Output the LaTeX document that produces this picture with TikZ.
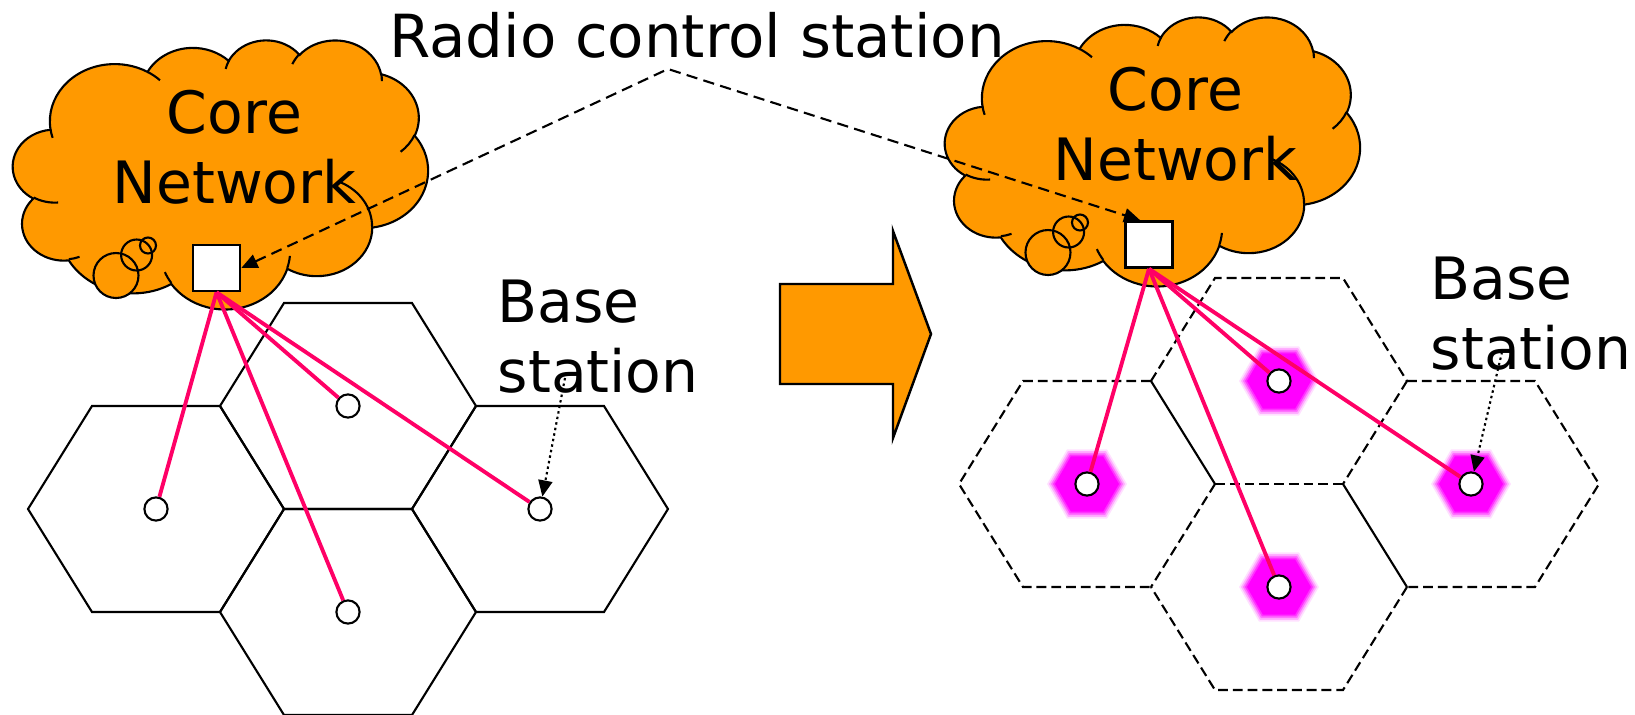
\documentclass[tikz,border=0pt]{standalone}
\usepackage{fontspec}
\setmainfont{DejaVu Sans}
\usetikzlibrary{arrows.meta, positioning}
\definecolor{cloudOrange}{HTML}{FF9900}
\definecolor{feederRed}{HTML}{FF0066}
\definecolor{glowMagenta}{HTML}{FF00FF}

\tikzset{
    % cloud outline, path units of 1/100 of the box (432 x 432)
    corecloud/.pic={
        \path[fill=cloudOrange, cloudline] (39.00,143.70)
            \foreach \w/\h/\s/\sw in {
                67.53/91.90/-190.487/123.781,
                53.33/72.67/-144.102/89.945,
                43.65/59.45/-145.808/99.723,
                48.57/65.95/-130.986/117.242,
                53.33/72.73/-78.709/109.027,
                67.75/92.20/-46.267/130.269,
                57.85/78.67/0.625/114.033,
                67.52/92.15/22.452/115.173,
                77.20/105.43/66.243/75.711,
                43.60/59.18/-274.942/146.736,
                43.45/59.45/-246.829/152.519}
            { arc[start angle={atan2(\w*sin(\s),\h*cos(\s))},
                  delta angle={mod(atan2(\w*sin(\s+\sw),\h*cos(\s+\sw))-atan2(\w*sin(\s),\h*cos(\s))+720,360)},
                  x radius=\w, y radius=\h] }
            -- cycle;
        % inner puff lines
        \draw[cloudline]
            \foreach \x/\y/\w/\h/\s/\sw in {
                46.93/261.77/43.45/59.45/86.742/26.430,
                69.28/348.99/43.60/59.18/73.610/11.447,
                164.78/390.90/67.52/92.15/137.624/14.081,
                288.27/347.51/67.52/92.15/6.453/15.998,
                341.29/229.54/57.85/78.67/-70.292/70.917,
                417.98/153.54/53.33/72.73/30.318/27.752,
                383.24/54.26/48.57/65.95/-13.744/14.859,
                290.78/39.52/48.57/65.95/-149.181/18.195,
                221.41/47.20/43.65/59.45/-163.494/17.686,
                140.00/51.92/67.53/91.90/-66.707/12.319,
                41.27/157.89/67.53/91.90/157.654/11.858}
            { (\x,\y) arc[start angle={atan2(\w*sin(\s),\h*cos(\s))},
                  delta angle={mod(atan2(\w*sin(\s+\sw),\h*cos(\s+\sw))-atan2(\w*sin(\s),\h*cos(\s))+720,360)},
                  x radius=\w, y radius=\h] };
    },
    % soft magenta cell marker
    glowhex/.pic={
        \foreach \r/\op in {40/0.12, 38/0.22, 36/0.35, 34/0.55, 32/1}
            \fill[glowMagenta, opacity=\op] (-\r,0) -- (-\r/2,-0.866*\r) -- (\r/2,-0.866*\r)
                -- (\r,0) -- (\r/2,0.866*\r) -- (-\r/2,0.866*\r) -- cycle;
    }
}

\begin{document}
\begin{tikzpicture}[
    x=0.01cm, y=-0.01cm,
    bigtext/.style={
        font=\fontsize{16.6pt}{19.9pt}\selectfont,
        inner sep=0pt
    },
    cloudline/.style={
        draw=black,
        line width=0.6pt
    },
    rcsbox/.style={
        rectangle,
        draw=black,
        fill=white,
        line width=0.7pt,
        minimum width=13.4pt,
        minimum height=13.1pt,
        inner sep=0pt
    },
    bsnode/.style={
        circle,
        draw=black,
        fill=white,
        line width=0.6pt,
        minimum size=6.6pt,
        inner sep=0pt
    },
    hexcell/.style={
        draw=black,
        line width=0.6pt
    },
    dashedcell/.style={
        hexcell,
        dash pattern=on 2.8pt off 1.4pt
    },
    feeder/.style={
        draw=feederRed,
        line width=1.1pt
    },
    rcsarrow/.style={
        {Triangle[length=4.6pt,width=4pt]}-{Triangle[length=4.6pt,width=4pt]},
        line width=0.6pt,
        dash pattern=on 3.2pt off 1.8pt
    },
    pointer/.style={
        -{Triangle[length=4.6pt,width=4pt]},
        line width=0.6pt,
        dash pattern=on 0.7pt off 0.9pt
    }
]
\useasboundingbox (0,0) rectangle (1635,714);

% Cells before: solid hexagons
\foreach \cx/\cy in {156/509, 348/406, 540/509, 348/612}
    \draw[hexcell, shift={(\cx,\cy)}] (-128,0) -- (-64,-103) -- (64,-103)
        -- (128,0) -- (64,103) -- (-64,103) -- cycle;

% Cells after: dashed outline, shared edges drawn once
\draw[dashedcell] (1151,381) -- (1023,381) -- (959,484) -- (1023,587) -- (1151,587);
\draw[dashedcell] (1151,381) -- (1215,278) -- (1343,278) -- (1407,381);
\draw[dashedcell] (1407,381) -- (1535,381) -- (1599,484) -- (1535,587) -- (1407,587);
\draw[dashedcell] (1407,587) -- (1343,690) -- (1215,690) -- (1151,587);
\draw[dashedcell] (1215,484) -- (1151,587);
\draw[dashedcell] (1215,484) -- (1343,484);
\draw[dashedcell] (1407,381) -- (1343,484);
\draw[hexcell] (1151,381) -- (1215,484);
\draw[hexcell] (1343,484) -- (1407,587);

\foreach \cx/\cy in {1087/484, 1279/381, 1471/484, 1279/587}
    \pic at (\cx,\cy) {glowhex};

% Core network clouds
\pic[xscale=0.9606, yscale=0.6227] at (13,39.5) {corecloud};
\pic[xscale=0.9606, yscale=0.6227] at (945,16.5) {corecloud};

% Callout bubbles
\foreach \bx/\by in {0/0, 932/-23} {
    \foreach \cx/\cy/\r in {116/275.5/22.5, 136.6/255/15.5, 148/245.5/8}
        \fill[cloudOrange] (\cx+\bx,\cy+\by) circle (\r);
    \foreach \cx/\cy/\r in {116/275.5/22.5, 136.6/255/15.5, 148/245.5/8}
        \draw[cloudline] (\cx+\bx,\cy+\by) circle (\r);
}

\node[bigtext, align=center] (coreOld) at (234.5,147) {Core\\Network};
\node[bigtext, align=center] (coreNew) at (1175.5,124.5) {Core\\Network};

% Radio control stations
\node[rcsbox] (rcsOld) at (216.5,268) {};
\node[rcsbox] (rcsNew) at (1149,244.5) {};

% Base stations
\node[bsnode] (oldW) at (156,509) {};
\node[bsnode] (oldN) at (348,406) {};
\node[bsnode] (oldE) at (540,509) {};
\node[bsnode] (oldS) at (348,612) {};
\node[bsnode] (newW) at (1087,484) {};
\node[bsnode] (newN) at (1279,381) {};
\node[bsnode] (newE) at (1471,484) {};
\node[bsnode] (newS) at (1279,587) {};

% Feeder links
\foreach \bs in {oldW, oldN, oldE, oldS}
    \draw[feeder] (rcsOld.south) -- (\bs);
\foreach \bs in {newW, newN, newE, newS}
    \draw[feeder] (rcsNew.south) -- (\bs);

% Labels
\node[bigtext, font=\fontsize{16.9pt}{19.9pt}\selectfont, anchor=base] (rcsLabel) at (697,57) {Radio control station};
\node[bigtext, align=left, anchor=west] (bsLabelOld) at (497,337) {Base\\station};
\node[bigtext, align=left, anchor=west] (bsLabelNew) at (1430,314) {Base\\station};

\coordinate (rcsTip) at (668,69);
\coordinate (ptrOld) at (565,378);
\coordinate (ptrNew) at (1502,352);

\draw[rcsarrow] (rcsOld.east) -- (rcsTip) -- (rcsNew.110);
\draw[pointer] (ptrOld) -- (oldE);
\draw[pointer] (ptrNew) -- (newE);

% Transition arrow
\draw[fill=cloudOrange, line width=0.7pt] (780,284) -- (893,284) -- (893,231)
    -- (931,334) -- (893,438) -- (893,384) -- (780,384) -- cycle;

\end{tikzpicture}
\end{document}
